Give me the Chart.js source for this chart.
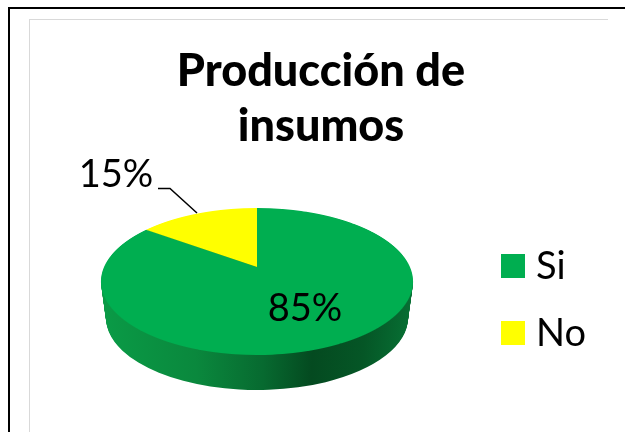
<!DOCTYPE html>
<html lang="es">
<head>
<meta charset="utf-8">
<title>Producción de insumos</title>
<script src="https://cdn.jsdelivr.net/npm/chart.js@4"></script>
<style>
  html, body { margin: 0; padding: 0; background: #fff; }
  #wrap { position: relative; width: 625px; height: 432px; overflow: hidden; }
  #frame { position: absolute; left: 8px; top: 7px; width: 640px; height: 460px; border: 2px solid #000; }
  #inner { position: absolute; left: 29px; top: 19px; width: 578px; height: 440px;
           border-left: 1px solid #d9d9d9; border-top: 1px solid #d9d9d9; }
  canvas { position: absolute; left: 0; top: 0; }
</style>
</head>
<body>
<div id="wrap">
  <div id="frame"></div>
  <div id="inner"></div>
  <canvas id="grafico" width="625" height="432"></canvas>
</div>
<script>
// datos
const categorias = ['Si', 'No'];
const valores = [85, 15];
const colores = ['#00AE50', '#FFFF00'];
const titulo = ['Producción de', 'insumos'];

const FUENTE = 'Lato, Carlito, sans-serif';

// geometria del disco en perspectiva (px de la imagen)
const CX = 257;
const APEX_Y = 267;     // donde cae el centro de la torta
const TOP_Y = 208;
const BOTTOM_Y = 355;
const RX = 156;
const PROFUNDIDAD = 35;

const h1 = APEX_Y - TOP_Y;
const h2 = BOTTOM_Y - APEX_Y;
const K = (h2 - h1) / (h2 + h1);
const B = h1 * (1 + K);
const A = RX * Math.sqrt(1 - K * K);

// pared lateral: de la elipse superior a la inferior
function pintarPared(chart, arcos) {
    const ctx = chart.ctx;
    const a0 = arcos[0];
    const R = a0.outerRadius;
    const cyTop = (TOP_Y + BOTTOM_Y) / 2;
    const ryTop = (BOTTOM_Y - TOP_Y) / 2;
    const sx0 = RX / R;

    const g = ctx.createLinearGradient(a0.x + (103 - CX) / sx0, 0, a0.x + (411 - CX) / sx0, 0);
    g.addColorStop(0, '#0A9A46');
    g.addColorStop(0.3, '#0A883D');
    g.addColorStop(0.52, '#076A30');
    g.addColorStop(0.68, '#044A20');
    g.addColorStop(0.85, '#055626');
    g.addColorStop(1, '#076E33');

    const original = arcos.map(a => a.options);
    arcos.forEach(a => { a.options = { ...a.options, backgroundColor: g }; });

    for (let d = PROFUNDIDAD; d >= 1; d--) {
        const t = d / PROFUNDIDAD;
        const rx = RX - 5 * t;
        const ry = ryTop - 1.5 * t;
        const cy = cyTop + d + 1.5 * t;
        const sx = rx / R;
        const sy = ry / R;
        ctx.save();
        ctx.setTransform(sx, 0, 0, sy, CX - sx * a0.x, cy - sy * a0.y);
        arcos.forEach(a => a.draw(ctx));
        ctx.restore();
    }
    arcos.forEach((a, i) => { a.options = original[i]; });
}

// cara superior: cada fila de pixeles con la escala que le da la perspectiva
function pintarCara(chart, arcos) {
    const ctx = chart.ctx;
    const a0 = arcos[0];
    const R = a0.outerRadius;
    for (let fila = TOP_Y - 2; fila <= BOTTOM_Y + 2; fila++) {
        const Y = fila + 0.5 - APEX_Y;
        const v = Y / (B + K * Y);
        const w = B / (B + K * Y);
        const sx = A / (R * w);
        const sy = (B / (w * w)) / R;
        ctx.save();
        ctx.beginPath();
        ctx.rect(0, fila, chart.width, 1);
        ctx.clip();
        ctx.setTransform(sx, 0, 0, sy, CX - sx * a0.x, fila + 0.5 - sy * (a0.y + R * v));
        arcos.forEach(a => a.draw(ctx));
        ctx.restore();
    }
}

const torta3d = {
    id: 'torta3d',
    beforeDatasetDraw(chart, args) {
        const arcos = args.meta.data;
        pintarPared(chart, arcos);
        pintarCara(chart, arcos);
        return false; // ya esta pintado, no dibujar la torta plana
    },
    afterDraw(chart) {
        const ctx = chart.ctx;
        ctx.save();

        // etiquetas de porcentaje
        ctx.fillStyle = '#000';
        ctx.font = '38px ' + FUENTE;
        ctx.textBaseline = 'alphabetic';
        ctx.textAlign = 'center';
        ctx.fillText(valores[0] + '%', 305, 321);
        ctx.fillText(valores[1] + '%', 116, 187);

        // linea guia del 15%
        ctx.strokeStyle = '#000';
        ctx.lineWidth = 1.5;
        ctx.beginPath();
        ctx.moveTo(158, 188.5);
        ctx.lineTo(170, 188.5);
        ctx.lineTo(197, 213);
        ctx.stroke();

        // leyenda
        const filasLeyenda = [254, 321];
        ctx.textAlign = 'left';
        categorias.forEach((nombre, i) => {
            ctx.fillStyle = colores[i];
            ctx.fillRect(501, filasLeyenda[i], 24, 24);
            ctx.fillStyle = '#000';
            ctx.fillText(nombre, 536, filasLeyenda[i] + 25);
        });
        ctx.restore();
    },
};

new Chart(document.getElementById('grafico'), {
    type: 'pie',
    data: {
        labels: categorias,
        datasets: [{
            data: valores,
            backgroundColor: colores,
            borderWidth: 0,
        }],
    },
    options: {
        responsive: false,
        animation: false,
        layout: { padding: { left: 29, right: 12, top: 0, bottom: 0 } },
        plugins: {
            legend: { display: false },
            tooltip: { enabled: false },
            title: {
                display: true,
                text: titulo,
                color: '#000',
                font: { family: FUENTE, size: 45, weight: '900', lineHeight: 1.22 },
                padding: { top: 44, bottom: 10 },
            },
        },
    },
    plugins: [torta3d],
});
</script>
</body>
</html>
